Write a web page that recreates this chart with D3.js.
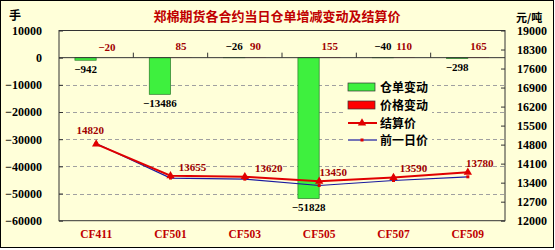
<!DOCTYPE html>
<html><head><meta charset="utf-8">
<script src="https://cdn.jsdelivr.net/npm/d3@7"></script>
<style>html,body{margin:0;padding:0;background:#fff;}svg{display:block;}</style>
</head><body>
<script>
const categories = ["CF411","CF501","CF503","CF505","CF507","CF509"];
const warehouseChange = [-942,-13486,-26,-51828,-40,-298];
const priceChange = [-20,85,90,155,110,165];
const settlePrice = [14820,13655,13620,13450,13590,13780];
const prevPrice = [14840,13570,13530,13295,13480,13615];
const leftTicks = [10000,0,-10000,-20000,-30000,-40000,-50000,-60000];
const rightTicks = [19000,18300,17600,16900,16200,15500,14800,14100,13400,12700,12000];
const seriesNames = ["仓单变动","价格变动","结算价","前一日价"];
const title = "郑棉期货各合约当日仓单增减变动及结算价";

const W=555,H=250;
const bg="#ffffd9", dark="#c00000", numFont="'Liberation Serif', serif";
const svg=d3.select("body").append("svg").attr("width",W).attr("height",H);
svg.append("rect").attr("x",0.5).attr("y",0.5).attr("width",553).attr("height",247).attr("fill",bg).attr("stroke","#000");

const L=59,R=505,T=30.5,B=220.7;
const x=d3.scaleBand().domain(categories).range([L,R]).padding(0);
const xs=d3.scaleBand().domain(["w","p"]).range([0,x.bandwidth()]).paddingInner(0).paddingOuter(0.75);
const yL=d3.scaleLinear().domain([-60000,10000]).range([B,T]);
const yR=d3.scaleLinear().domain([12000,19000]).range([B,T]);

// title & units
svg.append("text").attr("x",277).attr("y",21).attr("text-anchor","middle").attr("font-family","'Noto Sans CJK SC'").attr("font-weight","bold").attr("font-size",13).attr("fill",dark).text(title);
svg.append("text").attr("x",9).attr("y",20).attr("font-family","'Noto Sans CJK SC'").attr("font-weight","bold").attr("font-size",12).attr("fill","#000").text("手");
svg.append("text").attr("x",516).attr("y",22).attr("font-family","'Noto Sans CJK SC'").attr("font-weight","bold").attr("font-size",11).attr("fill","#000").text("元/吨");

// gridlines
svg.append("g").selectAll("line").data(leftTicks.filter(d=>d<0&&d>-60000)).join("line")
  .attr("x1",L).attr("x2",R).attr("y1",d=>Math.round(yL(d))+0.5).attr("y2",d=>Math.round(yL(d))+0.5)
  .attr("stroke","#a0a0a0").attr("stroke-dasharray","4,3").attr("stroke-width",1);

// left axis
const gl=svg.append("g").attr("transform",`translate(${L},0)`).call(d3.axisLeft(yL).tickValues(leftTicks).tickSize(-4).tickPadding(17).tickFormat(d=>d3.format("d")(d).replace("-","−")));
gl.select(".domain").remove();
gl.selectAll("line").attr("stroke","#333");
gl.selectAll("text").attr("font-family",numFont).attr("font-weight","bold").attr("font-size",12).attr("fill","#000");
// right axis
const gr=svg.append("g").attr("transform",`translate(${R},0)`).call(d3.axisRight(yR).tickValues(rightTicks).tickSize(-4).tickPadding(12).tickFormat(d3.format("d")));
gr.select(".domain").remove();
gr.selectAll("line").attr("stroke","#333");
gr.selectAll("text").attr("font-family",numFont).attr("font-weight","bold").attr("font-size",12).attr("fill","#000");

// frame
svg.append("rect").attr("x",L).attr("y",T).attr("width",R-L).attr("height",B-T).attr("fill","none").attr("stroke","#333").attr("stroke-width",1);

// legend background
const lg=svg.append("g");
lg.append("rect").attr("x",344).attr("y",76).attr("width",88).attr("height",72).attr("fill",bg);

// bars
const gb=svg.append("g");
gb.selectAll("rect.w").data(categories).join("rect").attr("class","w")
  .attr("x",(d)=>x(d)+xs("w")).attr("width",xs.bandwidth())
  .attr("y",(d,i)=>Math.min(yL(0),yL(warehouseChange[i]))).attr("height",(d,i)=>Math.abs(yL(warehouseChange[i])-yL(0)))
  .attr("fill","#3ef03e").attr("stroke","#2a7a2a").attr("stroke-width",0.7);
gb.selectAll("rect.p").data(categories).join("rect").attr("class","p")
  .attr("x",(d)=>x(d)+xs("p")).attr("width",xs.bandwidth())
  .attr("y",(d,i)=>Math.min(yL(0),yL(priceChange[i]))).attr("height",(d,i)=>Math.abs(yL(priceChange[i])-yL(0)))
  .attr("fill","#ff0000");

// zero line & category ticks
svg.append("line").attr("x1",L).attr("x2",R).attr("y1",yL(0)).attr("y2",yL(0)).attr("stroke","#333");
svg.append("g").selectAll("line").data(categories.slice(1)).join("line")
  .attr("x1",d=>x(d)).attr("x2",d=>x(d)).attr("y1",yL(0)).attr("y2",yL(0)-5).attr("stroke","#333");

// bar labels
gb.selectAll("text.w").data(categories).join("text").attr("class","w")
  .attr("x",d=>x(d)+xs("w")+xs.bandwidth()/2)
  .attr("y",(d,i)=>Math.abs(warehouseChange[i])<100? yL(0)-8 : yL(warehouseChange[i])+13)
  .attr("text-anchor","middle").attr("font-family",numFont).attr("font-weight","bold").attr("font-size",11).attr("fill","#000")
  .text((d,i)=>String(warehouseChange[i]).replace("-","−"));
gb.selectAll("text.p").data(categories).join("text").attr("class","p")
  .attr("x",d=>x(d)+xs("p")+xs.bandwidth()/2)
  .attr("y",(d,i)=>yL(Math.max(priceChange[i],0))-7)
  .attr("text-anchor","middle").attr("font-family",numFont).attr("font-weight","bold").attr("font-size",11).attr("fill","#a00000")
  .text((d,i)=>String(priceChange[i]).replace("-","−"));

// lines
const cx=d=>x(d)+x.bandwidth()/2;
const line=arr=>d3.line().x((d,i)=>cx(categories[i])).y(d=>yR(d))(arr);
svg.append("path").attr("d",line(prevPrice)).attr("fill","none").attr("stroke","#1a1aa0").attr("stroke-width",1.2);
svg.append("g").selectAll("rect").data(prevPrice).join("rect")
  .attr("x",(d,i)=>cx(categories[i])-1.5).attr("y",d=>yR(d)-1.5).attr("width",3).attr("height",3).attr("fill","#e00000");
svg.append("path").attr("d",line(settlePrice)).attr("fill","none").attr("stroke","#e00000").attr("stroke-width",2);
const tri=d3.symbol().type(d3.symbolTriangle).size(30);
svg.append("g").selectAll("path").data(settlePrice).join("path")
  .attr("d",tri).attr("transform",(d,i)=>`translate(${cx(categories[i])},${yR(d)})`).attr("fill","#e00000");
// settle labels
const lblDx=[-6,22,24,14,20,12];
svg.append("g").selectAll("text").data(settlePrice).join("text")
  .attr("x",(d,i)=>cx(categories[i])+lblDx[i]).attr("y",(d,i)=>yR(d)-(i===0?10:5))
  .attr("text-anchor","middle").attr("font-family",numFont).attr("font-weight","bold").attr("font-size",11).attr("fill","#a00000")
  .text(d=>d);

// x labels
svg.append("g").selectAll("text").data(categories).join("text")
  .attr("x",d=>cx(d)).attr("y",238).attr("text-anchor","middle").attr("font-family",numFont).attr("font-weight","bold").attr("font-size",11.5).attr("fill",dark).text(d=>d);

// legend
const ly=[87,105,123,140];
lg.append("rect").attr("x",348).attr("y",ly[0]-4).attr("width",27).attr("height",8).attr("fill","#3ef03e").attr("stroke","#333").attr("stroke-width",0.7);
lg.append("rect").attr("x",348).attr("y",ly[1]-4).attr("width",27).attr("height",8).attr("fill","#ff0000").attr("stroke","#333").attr("stroke-width",0.7);
lg.append("line").attr("x1",348).attr("x2",377).attr("y1",ly[2]).attr("y2",ly[2]).attr("stroke","#e00000").attr("stroke-width",2);
lg.append("path").attr("d",tri).attr("transform",`translate(362,${ly[2]})`).attr("fill","#e00000");
lg.append("line").attr("x1",348).attr("x2",377).attr("y1",ly[3]).attr("y2",ly[3]).attr("stroke","#1a1aa0").attr("stroke-width",1.2);
lg.append("rect").attr("x",360.5).attr("y",ly[3]-1.5).attr("width",3).attr("height",3).attr("fill","#e00000");
lg.selectAll("text").data(seriesNames).join("text").attr("x",380).attr("y",(d,i)=>ly[i]+4.5)
  .attr("font-family","'Noto Sans CJK SC'").attr("font-weight","bold").attr("font-size",12).attr("fill","#000").text(d=>d);
</script>
</body></html>
